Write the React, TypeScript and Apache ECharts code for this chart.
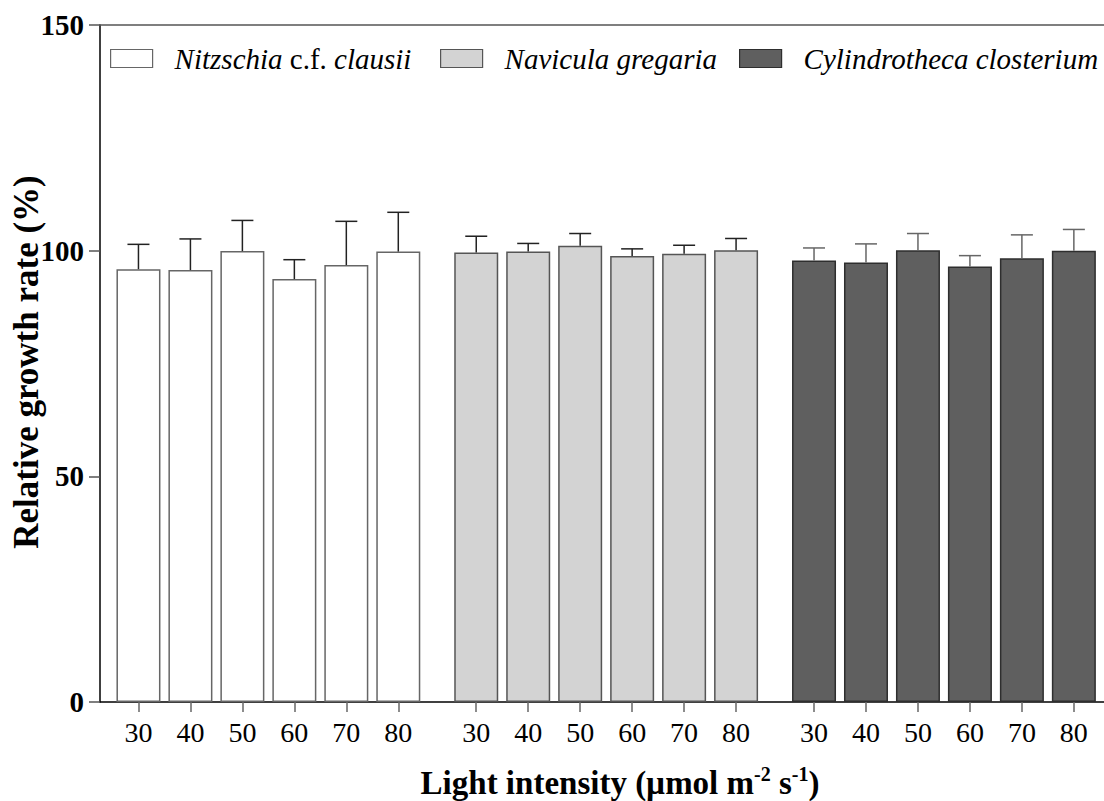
import React, { useEffect, useRef } from "react";
import * as echarts from "echarts";

// Light intensity levels (µmol m-2 s-1) tested for each species
const lightLevels = ["30", "40", "50", "60", "70", "80"];

// Species shown as three bar groups
const speciesNames = [
  "Nitzschia c.f. clausii",
  "Navicula gregaria",
  "Cylindrotheca closterium",
];

// Relative growth rate (%) — means and standard deviations
const nitzschiaMean = [95.9, 95.7, 99.9, 93.7, 96.8, 99.8];
const nitzschiaSd = [5.5, 6.9, 6.8, 4.3, 9.7, 8.7];
const naviculaMean = [99.6, 99.8, 101.1, 98.8, 99.3, 100.1];
const naviculaSd = [3.6, 1.8, 2.7, 1.6, 1.9, 2.6];
const cylindroMean = [97.8, 97.4, 100.1, 96.5, 98.3, 100.0];
const cylindroSd = [2.8, 4.1, 3.7, 2.4, 5.2, 4.7];

const means = [nitzschiaMean, naviculaMean, cylindroMean];
const sds = [nitzschiaSd, naviculaSd, cylindroSd];

const fills = ["#ffffff", "#d3d3d3", "#5f5f5f"];
const borders = ["#666666", "#555555", "#2e2e2e"];
const errColors = ["#222222", "#222222", "#666666"];

const FONT = "'Liberation Serif', 'Times New Roman', serif";
const GROUP_STRIDE = 6.5; // six bars plus a half-slot gap between groups

const pos = (g: number, i: number) => g * GROUP_STRIDE + i;

export default function App() {
  const ref = useRef<HTMLDivElement>(null);

  useEffect(() => {
    if (!ref.current) return;
    const chart = echarts.init(ref.current, null, { renderer: "svg" });

    const tickPositions: number[] = [];
    const tickLabels: string[] = [];
    speciesNames.forEach((_, g) =>
      lightLevels.forEach((lv, i) => {
        tickPositions.push(pos(g, i));
        tickLabels.push(lv);
      })
    );

    const barSeries = speciesNames.map((name, g) => ({
      type: "bar",
      name,
      barWidth: 44,
      barGap: "-100%",
      data: means[g].map((v, i) => [pos(g, i), v]),
      itemStyle: {
        color: fills[g],
        borderColor: borders[g],
        borderWidth: 1.5,
      },
      z: 2,
    }));

    const errData: number[][] = [];
    speciesNames.forEach((_, g) =>
      means[g].forEach((m, i) => errData.push([pos(g, i), m, sds[g][i], g]))
    );

    const errSeries = {
      type: "custom",
      name: "sd",
      data: errData,
      encode: { x: 0, y: 1 },
      z: 5,
      renderItem: (_p: any, api: any) => {
        const x = api.value(0);
        const m = api.value(1);
        const e = api.value(2);
        const c = errColors[api.value(3)];
        const base = api.coord([x, m]);
        const top = api.coord([x, m + e]);
        const half = 11;
        const style = { stroke: c, lineWidth: 1.5 };
        return {
          type: "group",
          children: [
            {
              type: "line",
              shape: { x1: base[0], y1: base[1], x2: top[0], y2: top[1] },
              style,
            },
            {
              type: "line",
              shape: { x1: top[0] - half, y1: top[1], x2: top[0] + half, y2: top[1] },
              style,
            },
          ],
        };
      },
    };

    const LEGEND_SIZE = 29;
    const legendRich = {
      s: { width: 17 },
      i: { fontStyle: "italic", fontSize: LEGEND_SIZE, fontFamily: FONT, color: "#000" },
      n: { fontStyle: "normal", fontSize: LEGEND_SIZE, fontFamily: FONT, color: "#000" },
    };
    const legendFormat = (name: string) => {
      if (name === speciesNames[0]) return "{s|}{i|Nitzschia} {n|c.f.} {i|clausii}";
      return "{s|}{i|" + name + "}";
    };
    const legendLefts = [110, 440, 739];
    const legends = speciesNames.map((name, g) => ({
      data: [
        {
          name,
          itemStyle: { color: fills[g], borderColor: borders[g], borderWidth: 1.2 },
        },
      ],
      left: legendLefts[g],
      top: 44,
      padding: 0,
      icon: "rect",
      itemWidth: 42,
      itemHeight: 18,
      formatter: legendFormat,
      textStyle: { fontSize: LEGEND_SIZE, fontFamily: FONT, color: "#000", rich: legendRich },
    }));

    const xMin = -0.74;
    const xMax = 18.58;

    chart.setOption({
      animation: false,
      backgroundColor: "#ffffff",
      grid: {
        left: 100,
        right: 0,
        top: 25,
        bottom: 99,
        containLabel: false,
        outerBoundsMode: "none",
      },
      legend: legends,
      xAxis: [
        {
          type: "value",
          min: xMin,
          max: xMax,
          splitLine: { show: false },
          axisLine: { show: true, onZero: false, lineStyle: { color: "#000", width: 1.5 } },
          axisTick: {
            show: true,
            customValues: tickPositions,
            length: 10,
            lineStyle: { color: "#666", width: 1.5 },
          },
          axisLabel: {
            customValues: tickPositions,
            margin: 16,
            fontSize: 28,
            fontFamily: FONT,
            color: "#000",
            formatter: (v: number) => {
              const k = tickPositions.findIndex((p) => Math.abs(p - v) < 1e-6);
              return k >= 0 ? tickLabels[k] : "";
            },
          },
        },
        {
          type: "value",
          position: "top",
          min: xMin,
          max: xMax,
          splitLine: { show: false },
          axisLine: { show: true, onZero: false, lineStyle: { color: "#555", width: 1.5 } },
          axisTick: { show: false },
          axisLabel: { show: false },
        },
      ],
      yAxis: {
        type: "value",
        min: 0,
        max: 150,
        interval: 50,
        splitLine: { show: false },
        axisLine: { show: true, onZero: false, lineStyle: { color: "#000", width: 1.5 } },
        axisTick: { show: true, length: 11, lineStyle: { color: "#555", width: 1.5 } },
        axisLabel: {
          margin: 16,
          fontSize: 29,
          fontWeight: "bold",
          fontFamily: FONT,
          color: "#000",
        },
      },
      graphic: [
        {
          type: "text",
          x: 620,
          y: 783,
          style: {
            text: "{b|Light intensity (µmol m}{sup|-2}{b| s}{sup|-1}{b|)}",
            align: "center",
            verticalAlign: "middle",
            rich: {
              b: { fontSize: 33, fontWeight: "bold", fontFamily: FONT, color: "#000", lineHeight: 38 },
              sup: {
                fontSize: 20,
                fontWeight: "bold",
                fontFamily: FONT,
                color: "#000",
                lineHeight: 20,
                verticalAlign: "top",
              },
            },
          },
        },
        {
          type: "text",
          x: 26,
          y: 362,
          rotation: Math.PI / 2,
          style: {
            text: "Relative growth rate (%)",
            align: "center",
            verticalAlign: "middle",
            fontSize: 35,
            fontWeight: "bold",
            fontFamily: FONT,
            fill: "#000",
          },
        },
      ],
      series: [...barSeries, errSeries],
    });

    return () => chart.dispose();
  }, []);

  return (
    <div
      ref={ref}
      style={{ position: "fixed", left: 0, top: 0, width: 1104, height: 801, background: "#fff" }}
    />
  );
}
